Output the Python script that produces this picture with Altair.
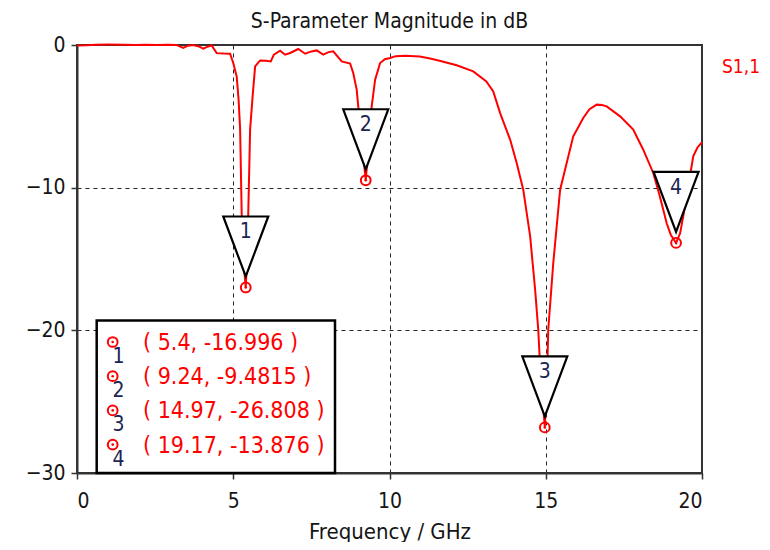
import altair as alt
import pandas as pd

# ---- curve S1,1 (GHz, dB) ----
freq = [0.0, 0.3, 0.6, 1.0, 1.5, 1.9, 2.2, 2.55, 2.9, 3.19, 3.4, 3.55, 3.72, 3.9, 4.04, 4.2, 4.31,
        4.47, 4.7, 4.9, 5.0, 5.11, 5.17, 5.22, 5.27, 5.32, 5.4, 5.45, 5.48, 5.54, 5.62, 5.7, 5.86,
        6.05, 6.2, 6.3, 6.5, 6.66, 6.82, 7.08, 7.3, 7.5, 7.67, 7.88, 8.05, 8.2, 8.47, 8.74, 8.84,
        8.95, 9.0, 9.1, 9.24, 9.35, 9.43, 9.54, 9.7, 9.85, 10.02, 10.2, 10.5, 10.97, 11.3, 11.6,
        12.15, 12.68, 13.1, 13.32, 13.54, 13.86, 14.07, 14.28, 14.5, 14.66, 14.76, 14.82, 14.97,
        15.05, 15.08, 15.24, 15.46, 15.67, 15.88, 16.2, 16.4, 16.63, 16.8, 16.95, 17.38, 17.8,
        18.12, 18.44, 18.65, 18.87, 19.0, 19.17, 19.3, 19.4, 19.56, 19.72, 19.85, 20.0]
s11 = [-0.03, -0.02, 0.02, 0.03, 0.02, 0.0, 0.02, 0.0, 0.01, 0.0, -0.2, -0.05, 0.0, -0.1, -0.26, -0.1, -0.03,
       -0.57, -0.6, -0.61, -1.26, -2.2, -3.8, -5.9, -11.8, -15.0, -16.996, -14.5, -11.8, -5.9, -3.6, -1.5, -1.08,
       -1.1, -1.15, -0.68, -0.4, -0.68, -0.56, -0.28, -0.61, -0.45, -0.38, -0.68, -0.5, -0.44, -1.15, -1.3, -1.96,
       -3.13, -4.3, -6.5, -9.4815, -6.5, -4.3, -2.43, -1.26, -1.0, -0.91, -0.78, -0.76, -0.8, -0.95, -1.1,
       -1.42, -1.85, -2.55, -3.25, -4.77, -6.63, -8.27, -10.14, -13.4, -17.15, -19.95, -22.5, -26.808,
       -22.5, -19.95, -15.3, -10.14, -8.27, -6.4, -5.12, -4.5, -4.18, -4.2, -4.3, -5.0, -5.93,
       -7.34, -8.97, -10.6, -12.5, -13.3, -13.876, -13.2, -12.0, -9.9, -7.8, -7.2, -6.8]

# ---- markers ----
marker_id = ["1", "2", "3", "4"]
marker_f = [5.4, 9.24, 14.97, 19.17]
marker_db = [-16.996, -9.4815, -26.808, -13.876]
marker_text = ["( 5.4, -16.996 )", "( 9.24, -9.4815 )", "( 14.97, -26.808 )", "( 19.17, -13.876 )"]

x_ticks = [0, 5, 10, 15, 20]
y_ticks = [0, -10, -20, -30]

FONT = "DejaVu Sans Condensed, DejaVu Sans"
RED = "#ff0000"
INK = "#151515"
NUM = "#1c2452"

curve = pd.DataFrame({"f": freq, "db": s11})
marks = pd.DataFrame({"id": marker_id, "f": marker_f, "db": marker_db,
                      "txt": marker_text, "row": list(range(len(marker_id)))})

xs = alt.Scale(domain=[0, 20], nice=False, zero=False)
ys = alt.Scale(domain=[-30, 0], nice=False, zero=False)
X = alt.X("f:Q", scale=xs, axis=alt.Axis(values=x_ticks, title="Frequency / GHz"))
Y = alt.Y("db:Q", scale=ys, axis=alt.Axis(values=y_ticks, title=None))

# plot frame (drawn under the curve)
frame = alt.Chart(marks).transform_filter("datum.row == 0").mark_rect(
    fill=None, fillOpacity=0, stroke="#333333", strokeWidth=2).encode(
    x=alt.value(0), x2=alt.value(625), y=alt.value(0), y2=alt.value(428))

line = alt.Chart(curve).mark_line(color=RED, strokeWidth=2).encode(x=X, y=Y, order="f:Q")

tri_path = "M -0.75 -1 L 0.75 -1 L 0 1 Z"
tri = alt.Chart(marks).mark_point(shape=tri_path, size=3600, filled=True, fill="white", stroke="black",
                                  strokeWidth=2.2, opacity=1, yOffset=-41).encode(x=X, y=Y)
tri_txt = alt.Chart(marks).mark_text(font=FONT, fontSize=21, color=NUM, yOffset=-55,
                                     baseline="middle").encode(x=X, y=Y, text="id:N")
ring = alt.Chart(marks).mark_point(shape="circle", size=95, filled=False, stroke=RED,
                                   strokeWidth=2, opacity=1).encode(x=X, y=Y)
dot = alt.Chart(marks).mark_point(shape="circle", size=7, filled=True, color=RED, opacity=1).encode(x=X, y=Y)

# legend box (annotation inside plot)
box = alt.Chart(marks).transform_filter("datum.row == 0").mark_rect(
    fill="white", stroke="black", strokeWidth=2.5).encode(
    x=alt.value(19.7), x2=alt.value(258), y=alt.value(275.4), y2=alt.value(428))
leg_base = alt.Chart(marks).transform_calculate(ypx="297 + 34.2 * datum.row")
leg_ring = leg_base.mark_point(shape="circle", size=95, filled=False, stroke=RED, strokeWidth=2,
                               opacity=1).encode(x=alt.value(35.7), y=alt.Y("ypx:Q", scale=None))
leg_dot = leg_base.mark_point(shape="circle", size=7, filled=True, color=RED, opacity=1).encode(
    x=alt.value(35.7), y=alt.Y("ypx:Q", scale=None))
leg_num = leg_base.mark_text(font=FONT, fontSize=21, color=NUM, baseline="middle").encode(
    x=alt.value(41.5), y=alt.Y("ypx:Q", scale=None), yOffset=alt.value(15), text="id:N")
leg_txt = leg_base.mark_text(font=FONT, fontSize=23, color=RED, align="left", baseline="middle").encode(
    x=alt.value(66), y=alt.Y("ypx:Q", scale=None), yOffset=alt.value(1), text="txt:N")

s11_label = alt.Chart(marks).transform_filter("datum.row == 0").mark_text(
    font=FONT, fontSize=19, color=RED, align="left", baseline="middle", text="S1,1").encode(
    x=alt.value(645), y=alt.value(22))

chart = alt.layer(frame, line, tri, tri_txt, ring, dot, box, leg_ring, leg_dot, leg_num, leg_txt,
                  s11_label).properties(
    width=625, height=428,
    title=alt.Title("S-Parameter Magnitude in dB", font=FONT, fontSize=21, fontWeight="normal",
                    color=INK, offset=2, anchor="middle"),
    autosize=alt.AutoSizeParams(type="none"),
    padding={"left": 69, "top": 37, "right": 60, "bottom": 69},
).configure_view(stroke=None).configure_axis(
    labelFont=FONT, labelFontSize=21, labelColor=INK,
    titleFont=FONT, titleFontSize=22, titleFontWeight="normal", titleColor=INK,
    grid=True, gridColor="#222222", gridDash=[4, 4], gridWidth=1, gridOpacity=1,
    domainColor="#333333", domainWidth=2, tickColor="#333333", tickSize=6, tickWidth=1.5,
).configure_axisX(labelPadding=11, titlePadding=10).configure_axisY(labelPadding=6)

chart.save("out.html", embed_options={"renderer": "svg", "actions": False})
